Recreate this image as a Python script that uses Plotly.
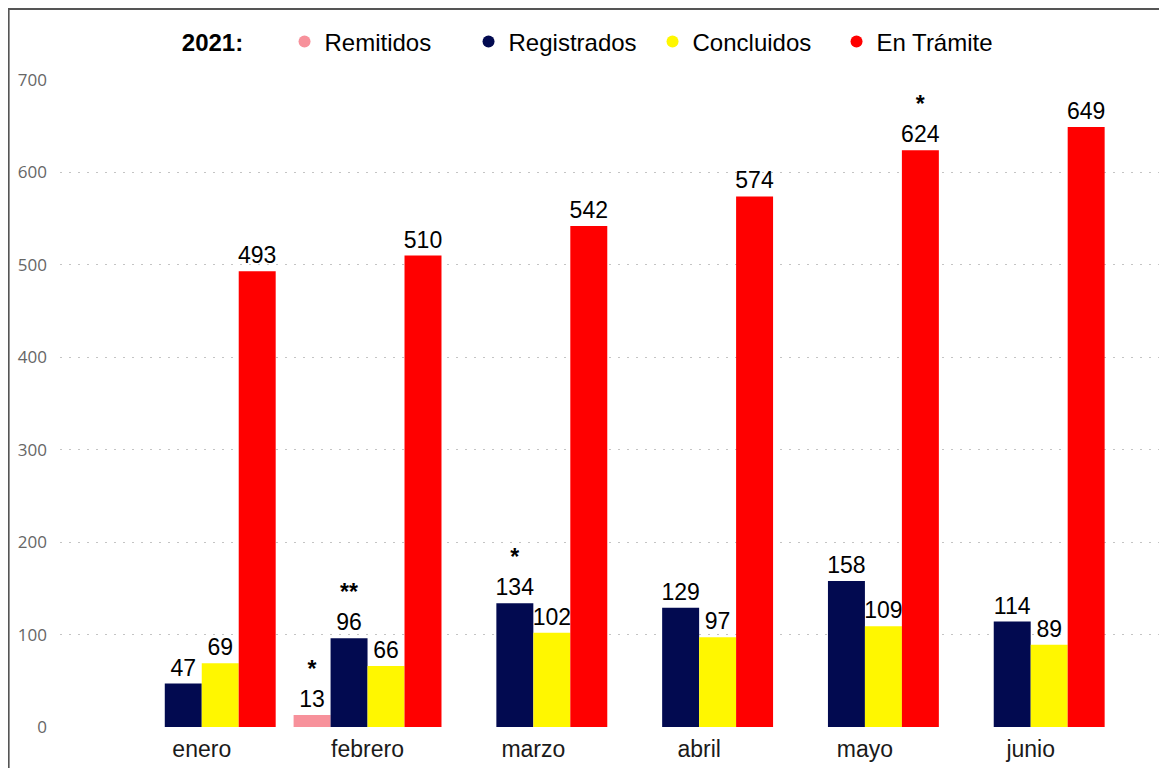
import plotly.graph_objects as go

# --- Datos 2021 ---
meses = ["enero", "febrero", "marzo", "abril", "mayo", "junio"]
remitidos = [None, 13, None, None, None, None]
registrados = [47, 96, 134, 129, 158, 114]
concluidos = [69, 66, 102, 97, 109, 89]
en_tramite = [493, 510, 542, 574, 624, 649]

# notas (asteriscos) sobre algunas barras
notas_remitidos = ["", "*", "", "", "", ""]
notas_registrados = ["", "**", "*", "", "", ""]
notas_concluidos = ["", "", "", "", "", ""]
notas_tramite = ["", "", "", "", "*", ""]

y_ticks = [0, 100, 200, 300, 400, 500, 600, 700]

FUENTE = "Liberation Sans, Arial"


def etiquetas(valores, notas):
    res = []
    for v, n in zip(valores, notas):
        if v is None:
            res.append("")
        elif n:
            res.append(f"<b>{n}</b><br>{v}")
        else:
            res.append(str(v))
    return res


series = [
    ("Remitidos", remitidos, notas_remitidos, "#F7919B"),
    ("Registrados", registrados, notas_registrados, "#020A50"),
    ("Concluidos", concluidos, notas_concluidos, "#FFF700"),
    ("En Trámite", en_tramite, notas_tramite, "#FF0000"),
]

fig = go.Figure()
for nombre, valores, notas, color in series:
    fig.add_trace(go.Bar(
        name=nombre, x=meses, y=valores, marker_color=color, marker_line_width=0,
        text=etiquetas(valores, notas), textposition="outside", constraintext="none",
        cliponaxis=False, showlegend=False,
        textfont=dict(family=FUENTE, size=23, color="#000000"),
    ))
# leyenda con puntos redondos
for nombre, valores, notas, color in series:
    fig.add_trace(go.Scatter(
        name=nombre, x=[None], y=[None], mode="markers",
        marker=dict(symbol="circle", size=15, color=color),
    ))

fig.update_layout(
    width=1167, height=768,
    barmode="group", bargap=0.108, bargroupgap=0,
    plot_bgcolor="white", paper_bgcolor="white",
    margin=dict(l=50, r=10, t=71, b=49),
    showlegend=True,
    legend=dict(
        orientation="h", x=0.1084, xanchor="left", y=1.0571, yanchor="middle",
        bgcolor="rgba(0,0,0,0)", entrywidth=139,
        title=dict(text="<b>2021:</b>" + "\u00a0" * 5, font=dict(family=FUENTE, size=24, color="#000")),
        font=dict(family=FUENTE, size=24, color="#000"),
        itemsizing="constant", traceorder="normal",
    ),
    xaxis=dict(
        range=[-0.855, 5.81], showgrid=False, showline=False, ticks="",
        tickfont=dict(family=FUENTE, size=23, color="#1a1a1a"),
        ticklabelstandoff=6,
    ),
    yaxis=dict(
        range=[0, 701], tickvals=y_ticks, showline=False, zeroline=False,
        showgrid=True, gridcolor="#C4C4C4", gridwidth=1.3, griddash="1.5px,7.5px",
        tickfont=dict(family="Open Sans, Segoe UI", size=17, color="#666"),
        ticklabelstandoff=12,
    ),
    shapes=[dict(
        type="rect", xref="paper", yref="paper",
        x0=-0.0465, x1=1.2, y0=-0.2, y1=1.108,
        line=dict(color="#555555", width=2),
    )],
)

fig.write_html("out.html")
